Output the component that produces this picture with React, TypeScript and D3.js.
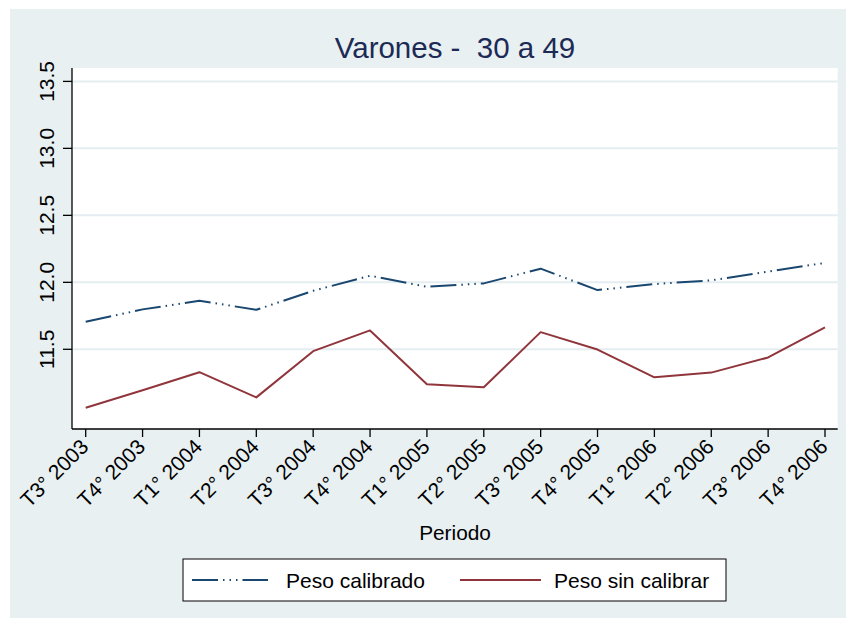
import React from "react";
import * as d3 from "d3";

const periods = [
  "T3° 2003", "T4° 2003", "T1° 2004", "T2° 2004", "T3° 2004", "T4° 2004", "T1° 2005",
  "T2° 2005", "T3° 2005", "T4° 2005", "T1° 2006", "T2° 2006", "T3° 2006", "T4° 2006",
];
const calibrado = [11.705, 11.798, 11.862, 11.795, 11.937, 12.049, 11.967, 11.992, 12.102, 11.942, 11.987, 12.015, 12.08, 12.145];
const sinCalibrar = [11.064, 11.194, 11.329, 11.141, 11.486, 11.641, 11.239, 11.216, 11.628, 11.498, 11.291, 11.326, 11.439, 11.663];
const yTicks = [11.5, 12.0, 12.5, 13.0, 13.5];
const seriesNames = ["Peso calibrado", "Peso sin calibrar"];
const title = "Varones -  30 a 49";

const FONT = "'Liberation Sans', Arial, Helvetica, sans-serif";
const BLUE = "#1a476f";
const RED = "#90353b";
const BG = "#e8f0f2";
const GRID = "#e4edf0";
const DASH = "26 5 1.5 5 1.5 5 1.5 5";

export default function App() {
  const W = 846, H = 618;
  const plotL = 72, plotR = 837.7, plotT = 68, plotB = 429;
  const x = d3.scalePoint<string>().domain(periods).range([85.7, 825]);
  const y = d3.scaleLinear().domain([10.905, 13.6]).range([plotB, plotT]);
  const line = d3.line<number>().x((_, i) => x(periods[i]) as number).y((d) => y(d));

  return (
    <svg width={W} height={H} style={{ position: "absolute", left: 0, top: 0 }} fontFamily={FONT}>
      <rect x={10} y={9} width={W - 10} height={H - 9} fill={BG} />
      <rect x={plotL} y={plotT} width={plotR - plotL} height={plotB - plotT} fill="#ffffff" />
      {yTicks.map((t) => (
        <line key={"g" + t} x1={plotL} x2={plotR} y1={y(t)} y2={y(t)} stroke={GRID} strokeWidth={2} />
      ))}
      <text x={455} y={57.7} textAnchor="middle" fontSize={29.5} fill="#1c2a55" style={{ whiteSpace: "pre" }}>{title}</text>
      {/* y axis */}
      <line x1={plotL} x2={plotL} y1={plotT} y2={plotB} stroke="#000" strokeWidth={1.3} />
      {yTicks.map((t) => (
        <g key={"y" + t}>
          <line x1={plotL - 9} x2={plotL} y1={y(t)} y2={y(t)} stroke="#000" strokeWidth={1.3} />
          <text transform={`translate(53.5,${y(t)}) rotate(-90)`} textAnchor="middle" fontSize={21} fill="#000">
            {t.toFixed(1)}
          </text>
        </g>
      ))}
      {/* x axis */}
      <line x1={plotL} x2={plotR} y1={plotB} y2={plotB} stroke="#000" strokeWidth={1.3} />
      {periods.map((p) => (
        <g key={p}>
          <line x1={x(p)} x2={x(p)} y1={plotB} y2={plotB + 8} stroke="#000" strokeWidth={1.3} />
          <text transform={`translate(${(x(p) as number) + 4},${448}) rotate(-45)`} textAnchor="end" fontSize={21} fill="#000">
            {p}
          </text>
        </g>
      ))}
      <text x={455} y={540} textAnchor="middle" fontSize={20.8} fill="#000">Periodo</text>
      {/* lines */}
      <path d={line(sinCalibrar) || ""} fill="none" stroke={RED} strokeWidth={2} strokeLinejoin="round" />
      <path d={line(calibrado) || ""} fill="none" stroke={BLUE} strokeWidth={2} strokeDasharray={DASH} strokeLinejoin="round" />
      {/* legend */}
      <rect x={183} y={559} width={543} height={42} fill="#fff" stroke="#000" strokeWidth={1} />
      <line x1={192} x2={268} y1={580} y2={580} stroke={BLUE} strokeWidth={2} strokeDasharray={DASH} />
      <text x={286} y={588} fontSize={21} fill="#000">{seriesNames[0]}</text>
      <line x1={460} x2={541} y1={580} y2={580} stroke={RED} strokeWidth={2} />
      <text x={554} y={588} fontSize={21} fill="#000">{seriesNames[1]}</text>
    </svg>
  );
}
